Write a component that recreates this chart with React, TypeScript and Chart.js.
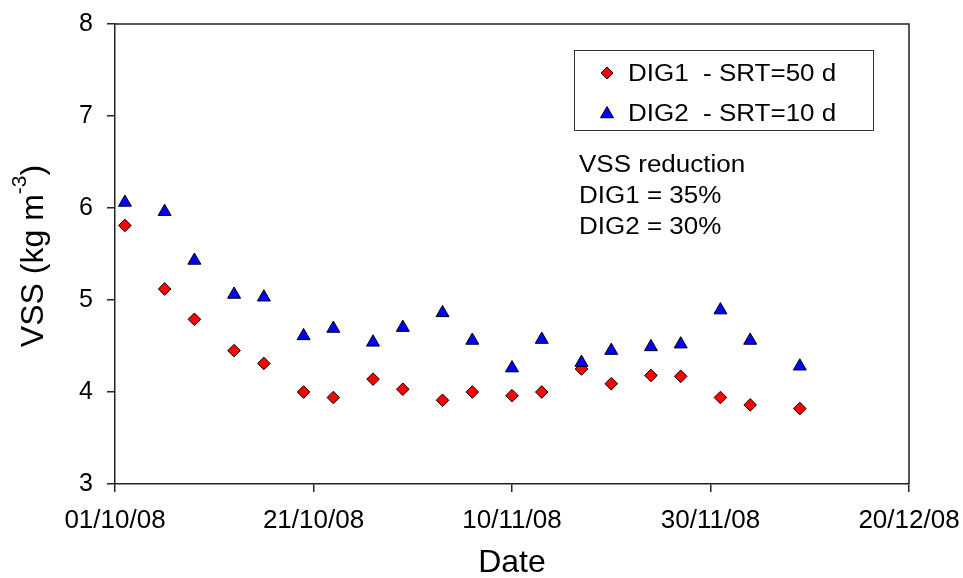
import React, { useEffect, useRef } from "react";
import { Chart, registerables } from "chart.js";

Chart.register(...registerables);

const FONT = "'Liberation Sans', Arial, Helvetica, sans-serif";

// ---- data ----
const startDate = "01/10/08";
const sampleDates = [
  "02/10/08", "06/10/08", "09/10/08", "13/10/08", "16/10/08",
  "20/10/08", "23/10/08", "27/10/08", "30/10/08", "03/11/08",
  "06/11/08", "10/11/08", "13/11/08", "17/11/08", "20/11/08",
  "24/11/08", "27/11/08", "01/12/08", "04/12/08", "09/12/08",
];
const dig1Values = [
  5.81, 5.12, 4.79, 4.45, 4.31, 4.0, 3.94, 4.14, 4.03, 3.91,
  4.0, 3.96, 4.0, 4.25, 4.09, 4.18, 4.17, 3.94, 3.86, 3.82,
];
const dig2Values = [
  6.06, 5.96, 5.43, 5.06, 5.03, 4.61, 4.69, 4.54, 4.7, 4.86,
  4.56, 4.26, 4.57, 4.32, 4.45, 4.49, 4.52, 4.89, 4.56, 4.28,
];
const xTickLabels = ["01/10/08", "21/10/08", "10/11/08", "30/11/08", "20/12/08"];
const xRangeDays = [0, 80];
const xStepDays = 20;
const yRange = [3, 8];
const yStep = 1;
const seriesLabels = ["DIG1  - SRT=50 d", "DIG2  - SRT=10 d"];
const noteLines = ["VSS reduction", "DIG1 = 35%", "DIG2 = 30%"];
const xTitle = "Date";
const yTitleParts = ["VSS (kg m", "-3", ")"];

function parseDay(s: string): number {
  const [d, m, y] = s.split("/").map(Number);
  return Date.UTC(2000 + y, m - 1, d) / 86400000;
}
const day0 = parseDay(startDate);

function drawDiamond(ctx: CanvasRenderingContext2D, x: number, y: number, r: number, fill: string) {
  ctx.beginPath();
  ctx.moveTo(x, y - r);
  ctx.lineTo(x + r, y);
  ctx.lineTo(x, y + r);
  ctx.lineTo(x - r, y);
  ctx.closePath();
  ctx.fillStyle = fill;
  ctx.fill();
  ctx.lineWidth = 1;
  ctx.strokeStyle = "#000";
  ctx.stroke();
}

function drawTriangle(ctx: CanvasRenderingContext2D, x: number, y: number, r: number, fill: string) {
  const h = r * Math.sqrt(3) / 2;
  ctx.beginPath();
  ctx.moveTo(x, y - r);
  ctx.lineTo(x + h, y + r / 2);
  ctx.lineTo(x - h, y + r / 2);
  ctx.closePath();
  ctx.fillStyle = fill;
  ctx.fill();
  ctx.lineWidth = 1;
  ctx.strokeStyle = "#000";
  ctx.stroke();
}

function stretchedText(ctx: CanvasRenderingContext2D, text: string, x: number, y: number, sx: number) {
  ctx.save();
  ctx.translate(x, y);
  ctx.scale(sx, 1);
  ctx.fillText(text, 0, 0);
  ctx.restore();
}

const framePlugin = {
  id: "frame",
  beforeDatasetsDraw(chart: any) {
    const { ctx, chartArea } = chart;
    ctx.save();
    ctx.strokeStyle = "#222";
    ctx.lineWidth = 1.5;
    ctx.beginPath();
    ctx.moveTo(chartArea.left, chartArea.top);
    ctx.lineTo(chartArea.right, chartArea.top);
    ctx.lineTo(chartArea.right, chartArea.bottom);
    ctx.stroke();
    ctx.restore();
  },
};

const overlayPlugin = {
  id: "overlay",
  afterDraw(chart: any) {
    const { ctx, chartArea } = chart;
    ctx.save();
    // y axis title with superscript
    const cy = (chartArea.top + chartArea.bottom) / 2 + 2;
    ctx.translate(43, cy);
    ctx.rotate(-Math.PI / 2);
    ctx.fillStyle = "#000";
    ctx.textBaseline = "alphabetic";
    ctx.textAlign = "left";
    const mainFont = `32px ${FONT}`;
    const supFont = `21px ${FONT}`;
    ctx.font = mainFont;
    const w1 = ctx.measureText(yTitleParts[0]).width;
    const w3 = ctx.measureText(yTitleParts[2]).width;
    ctx.font = supFont;
    const w2 = ctx.measureText(yTitleParts[1]).width;
    let x = -(w1 + w2 + w3) / 2;
    ctx.font = mainFont;
    ctx.fillText(yTitleParts[0], x, 0);
    x += w1;
    ctx.font = supFont;
    ctx.fillText(yTitleParts[1], x, -17);
    x += w2;
    ctx.font = mainFont;
    ctx.fillText(yTitleParts[2], x, 0);
    ctx.restore();

    // legend box
    ctx.save();
    ctx.strokeStyle = "#333";
    ctx.lineWidth = 1;
    ctx.fillStyle = "#fff";
    ctx.fillRect(574.5, 50.5, 299, 80);
    ctx.strokeRect(574.5, 50.5, 299, 80);
    drawDiamond(ctx, 607, 73, 6, "#FF0000");
    drawTriangle(ctx, 607, 114, 7.5, "#0000FF");
    ctx.fillStyle = "#000";
    ctx.font = `23px ${FONT}`;
    ctx.textBaseline = "alphabetic";
    ctx.textAlign = "left";
    stretchedText(ctx, seriesLabels[0], 628, 81, 1.13);
    stretchedText(ctx, seriesLabels[1], 628, 121, 1.13);
    const noteBase = [171.5, 203, 234];
    noteLines.forEach((t, i) => stretchedText(ctx, t, 579, noteBase[i], 1.13));
    ctx.restore();
  },
};

export default function App() {
  const canvasRef = useRef<HTMLCanvasElement | null>(null);

  useEffect(() => {
    const canvas = canvasRef.current;
    if (!canvas) return;
    const xs = sampleDates.map((d) => parseDay(d) - day0);
    const axisColor = "#222";
    const chart = new Chart(canvas, {
      type: "scatter",
      data: {
        datasets: [
          {
            label: seriesLabels[0],
            data: xs.map((x, i) => ({ x, y: dig1Values[i] })),
            pointStyle: "rectRot",
            pointRadius: 6.3,
            pointBackgroundColor: "#FF0000",
            pointBorderColor: "#000",
            pointBorderWidth: 1,
            order: 1,
          },
          {
            label: seriesLabels[1],
            data: xs.map((x, i) => ({ x, y: dig2Values[i] })),
            pointStyle: "triangle",
            pointRadius: 7.5,
            pointBackgroundColor: "#0000FF",
            pointBorderColor: "#000",
            pointBorderWidth: 1,
            order: 0,
          },
        ],
      },
      options: {
        responsive: false,
        animation: false,
        layout: { padding: { top: 24, right: 54, left: 0, bottom: 0 } },
        plugins: { legend: { display: false }, tooltip: { enabled: false } },
        scales: {
          x: {
            type: "linear",
            position: "bottom",
            min: xRangeDays[0],
            max: xRangeDays[1],
            ticks: {
              stepSize: xStepDays,
              autoSkip: false,
              maxRotation: 0,
              callback: (_v: any, i: number) => xTickLabels[i] ?? "",
              font: { family: FONT, size: 26 },
              color: "#000",
              padding: 13,
            },
            grid: { display: true, drawOnChartArea: false, drawTicks: true, tickLength: 8, color: axisColor, lineWidth: 1.5 },
            border: { display: true, color: axisColor, width: 1.5 },
            title: {
              display: true,
              text: xTitle,
              font: { family: FONT, size: 32, lineHeight: 0.9375 },
              color: "#000",
              padding: 0,
            },
            afterFit: (s: any) => { s.height = 94; s.paddingLeft = 0; s.paddingRight = 0; },
          },
          y: {
            type: "linear",
            min: yRange[0],
            max: yRange[1],
            ticks: {
              stepSize: yStep,
              font: { family: FONT, size: 25 },
              color: "#000",
              padding: 14,
            },
            grid: { display: true, drawOnChartArea: false, drawTicks: true, tickLength: 8, color: axisColor, lineWidth: 1.5 },
            border: { display: true, color: axisColor, width: 1.5 },
            afterFit: (s: any) => { s.width = 115; s.paddingTop = 0; s.paddingBottom = 0; },
          },
        },
      },
      plugins: [framePlugin, overlayPlugin],
    } as any);
    return () => chart.destroy();
  }, []);

  return (
    <div style={{ position: "absolute", left: 0, top: 0, width: 963, height: 578, background: "#fff" }}>
      <canvas ref={canvasRef} width={963} height={578} />
    </div>
  );
}
